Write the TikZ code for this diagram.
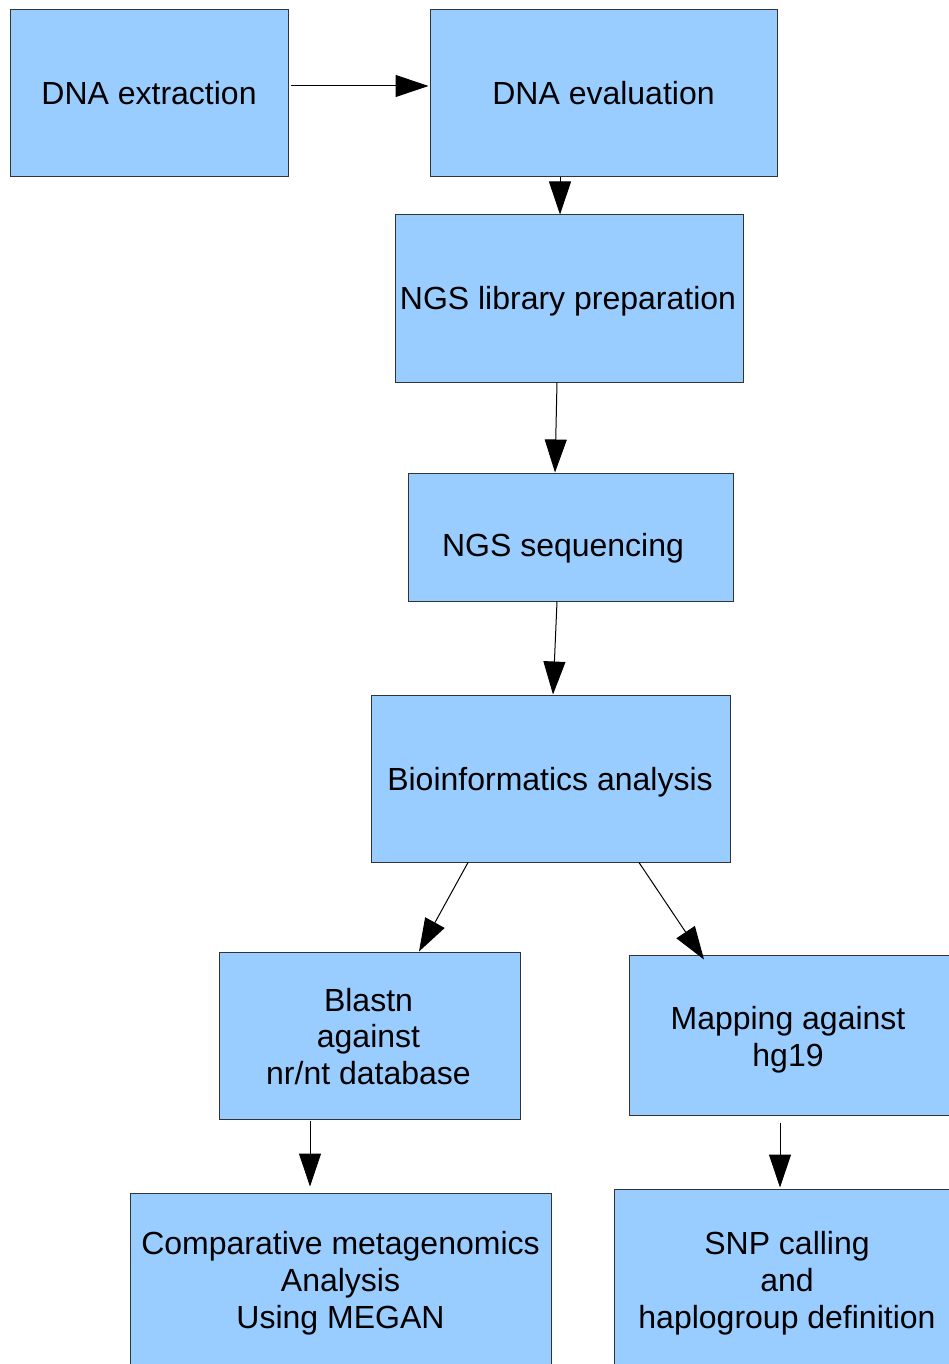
\documentclass[tikz,border=0pt]{standalone}
\usepackage{fontspec}
\setmainfont{Liberation Sans}
\usetikzlibrary{arrows.meta,calc}
\definecolor{boxfill}{HTML}{99CCFF}
\definecolor{boxline}{HTML}{333333}
\begin{document}
\begin{tikzpicture}[x=1pt,y=-1pt,
  stepbox/.style={draw=boxline, line width=1pt, fill=boxfill, inner sep=0pt},
  steptext/.style={inner sep=0pt, align=center, font=\fontsize{32}{36.8}\selectfont},
  arr/.style={draw=black, line width=1pt, -{Triangle[length=33pt,width=22pt]}}]
\useasboundingbox (0,0) rectangle (949,1364);
\clip (0,0) rectangle (949,1364);
\fill[white] (0,0) rectangle (949,1364);
% process boxes, positioned by centre and sized in px
\node[stepbox, minimum width=278pt, minimum height=167pt] (a) at (149,93.5) {};
\node[stepbox, minimum width=347pt, minimum height=167pt] (b) at (603.5,93.5) {};
\node[stepbox, minimum width=348pt, minimum height=167pt] (c) at (569,298.5) {};
\node[stepbox, minimum width=325pt, minimum height=128pt] (d) at (570.5,537) {};
\node[stepbox, minimum width=359pt, minimum height=167pt] (e) at (550.5,778.5) {};
\node[stepbox, minimum width=301pt, minimum height=167pt] (f) at (369.5,1035.5) {};
\node[stepbox, minimum width=321pt, minimum height=160pt] (g) at (789.5,1035) {};
\node[stepbox, minimum width=421pt, minimum height=174pt] (h) at (340.5,1280) {};
\node[stepbox, minimum width=346pt, minimum height=182pt] (i) at (787,1280) {};
% box captions
\node[steptext, anchor=base] (aT) at (149,105) {DNA extraction};
\node[steptext, anchor=base] (bT) at (603.5,105) {DNA evaluation};
\node[steptext, anchor=base] (cT) at (568,309) {NGS library preparation};
\node[steptext, anchor=base] (dT) at (563,556) {NGS sequencing};
\node[steptext, anchor=base] (eT) at (550,790) {Bioinformatics analysis};
\node[steptext] (fT) at ($(f.center)+(-1,1)$) {Blastn\\against\\nr/nt database};
\node[steptext] (gT) at ($(g.center)+(-1.5,5)$) {Mapping against\\hg19};
\node[steptext] (hT) at ($(h.center)+(0,3)$) {Comparative metagenomics\\Analysis\\Using MEGAN};
\node[steptext] (iT) at ($(i.center)+(0,3)$) {SNP calling\\and\\haplogroup definition};
% connectors
\draw[arr] ([xshift=2pt,yshift=7.5pt]a.east) -- ([xshift=-1pt,yshift=7.5pt]b.west);
\draw[arr] ([xshift=-43.5pt]b.south) -- ([xshift=-9pt]c.north);
\draw[arr] ([xshift=-12pt]c.south) -- ([xshift=-15.5pt]d.north);
\draw[arr] ([xshift=-13.5pt]d.south) -- ([xshift=2.5pt]e.north);
\draw[arr] ([xshift=-82.5pt]e.south) -- ([xshift=49.5pt]f.north);
\draw[arr] ([xshift=88.5pt]e.south) -- ([xshift=-85.5pt,yshift=-5pt]g.north);
\draw[arr] ([xshift=-59.5pt,yshift=-1pt]f.south) -- ([xshift=-30.5pt,yshift=6pt]h.north);
\draw[arr] ([xshift=-9.5pt,yshift=-7pt]g.south) -- ([xshift=-7pt,yshift=1pt]i.north);
\end{tikzpicture}
\end{document}
